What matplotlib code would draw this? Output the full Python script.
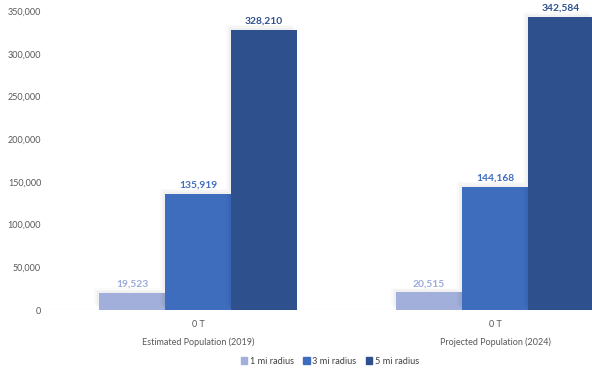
import matplotlib
matplotlib.use("Agg")
import matplotlib.pyplot as plt
import matplotlib.patheffects as pe
import numpy as np

plt.rcParams['font.family'] = ['Lato', 'DejaVu Sans']

categories = ["Estimated Population (2019)", "Projected Population (2024)"]
series_names = ["1 mi radius", "3 mi radius", "5 mi radius"]
one_mi = [19523, 20515]
three_mi = [135919, 144168]
five_mi = [328210, 342584]
tick_label = "0 T"

bar_colors = ["#A1AFDA", "#3E6DBE", "#2E518E"]
label_colors = ["#9AAADA", "#3F6DC0", "#2F518F"]

fig = plt.figure(figsize=(5.92, 3.70), dpi=100)
ax = fig.add_axes([49.5 / 592, 60 / 370, (592 - 49.5) / 592, 299 / 370])

# faint soft shadow to the upper left of each bar
soft_shadow = [pe.SimplePatchShadow(offset=(-d, d), shadow_rgbFace="#000000", alpha=0.02)
               for d in (3.5, 2.5, 1.5)] + [pe.Normal()]

x = np.arange(len(categories))
width = 0.2222
handles = []
for i, (vals, col, lcol) in enumerate(zip([one_mi, three_mi, five_mi], bar_colors, label_colors)):
    pos = x + (i - 1) * width
    bars = ax.bar(pos, vals, width=width, color=col, label=series_names[i], zorder=3)
    for b in bars:
        b.set_path_effects(soft_shadow)
    handles.append(plt.Rectangle((0, 0), 1, 1, color=col))
    for p, v in zip(pos, vals):
        ax.text(p, v + 5000, f"{v:,}", ha="center", va="bottom", fontsize=7.4,
                fontweight="bold", color=lcol, zorder=4)

ax.set_ylim(0, 350000)
ax.set_xlim(-0.5, 1.5 - 51.5 / 297)
ax.set_yticks(np.arange(0, 350001, 50000))
ax.set_yticklabels([f"{v:,}" for v in range(0, 350001, 50000)], fontsize=6.5, color="#595959")
ax.set_xticks(x)
ax.set_xticklabels([tick_label] * len(categories), fontsize=6.5, color="#595959")
ax.tick_params(axis="y", length=0, pad=6)
ax.tick_params(axis="x", length=0, pad=7)
for s in ax.spines.values():
    s.set_visible(False)
ax.axhline(0, color="#D9D9D9", lw=0.8, zorder=2)

for xi, c in zip(x, categories):
    ax.text(xi, -0.107, c, transform=ax.get_xaxis_transform(), ha="center", va="center",
            fontsize=6.5, color="#595959")

leg = fig.legend(handles, series_names, loc="center", bbox_to_anchor=(330 / 592, 1 - 361 / 370),
                 ncol=3, frameon=False, fontsize=6.6, handlelength=0.7, handleheight=0.7,
                 handletextpad=0.3, columnspacing=1.0)
for t in leg.get_texts():
    t.set_color("#404040")

fig.savefig("out.png", dpi=100)
